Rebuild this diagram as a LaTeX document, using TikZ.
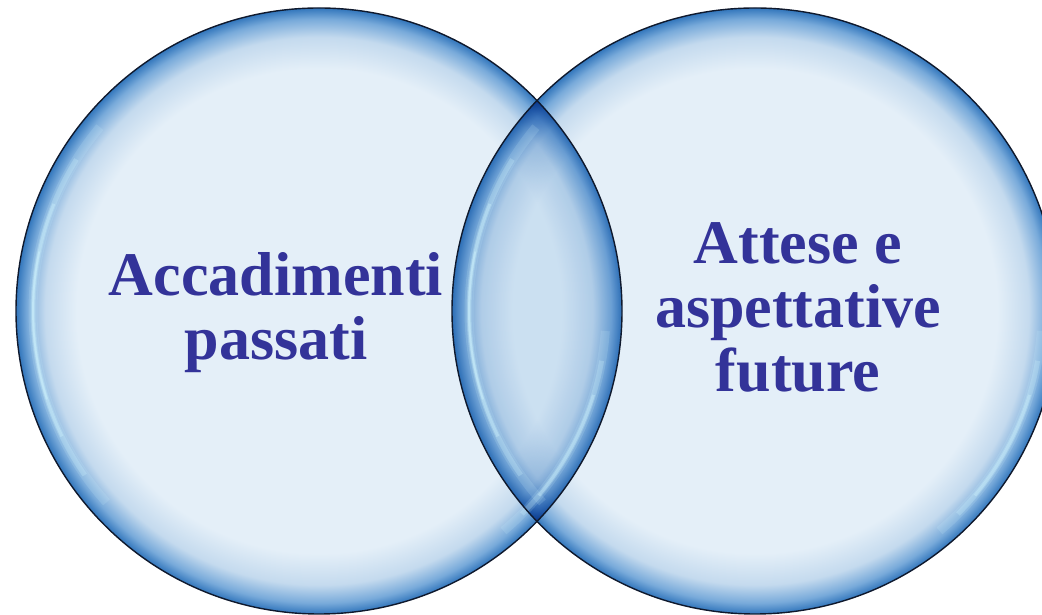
\documentclass[tikz,border=0pt]{standalone}
\usepackage{fontspec}
\setmainfont{Liberation Serif}
\usetikzlibrary{calc}
\definecolor{txtblue}{RGB}{51,51,153}
\definecolor{inner}{RGB}{228,239,248}
\definecolor{rimc}{RGB}{196,218,238}
\definecolor{rimb}{RGB}{120,170,218}
\definecolor{rima}{RGB}{50,118,188}
\definecolor{hl}{RGB}{210,246,255}
\definecolor{edge}{RGB}{15,25,45}
\pgfdeclareradialshading{rimshade}{\pgfpointorigin}{%
  color(0bp)=(inner); color(20bp)=(inner); color(22.6bp)=(rimc);
  color(24.1bp)=(rimb); color(25bp)=(rima); color(50bp)=(rima)}
\tikzset{
  bubble/.style={shading=rimshade},
  rimline/.style={draw=edge, line width=1.4pt},
  label/.style={text=txtblue, font=\bfseries\fontsize{62}{64}\selectfont, align=center, anchor=base, inner sep=0pt},
  hlarc/.style={draw=hl, line cap=butt}
}
\begin{document}
\begin{tikzpicture}[x=1pt,y=1pt]
\useasboundingbox (0,0) rectangle (1042,615);
\clip (0,0) rectangle (1042,615);
\coordinate (L) at (319,304);
\coordinate (R) at (755,304);
% left bubble
\shade[bubble] (L) circle[radius=303];
% right bubble, multiplied over the left one
\begin{scope}[blend mode=multiply]
\shade[bubble] (R) circle[radius=303];
\end{scope}
% soft highlights near the rims
\foreach \c in {L,R}{
  \draw[hlarc, line width=9pt, opacity=0.15] ($( \c )+(140:286)$) arc[start angle=140, end angle=222, radius=286];
  \draw[hlarc, line width=5pt, opacity=0.25] ($( \c )+(148:286)$) arc[start angle=148, end angle=215, radius=286];
  \draw[hlarc, line width=3pt, opacity=0.35] ($( \c )+(158:286)$) arc[start angle=158, end angle=206, radius=286];
  \draw[hlarc, line width=1.8pt, opacity=0.4] ($( \c )+(168:286)$) arc[start angle=168, end angle=198, radius=286];
  \draw[hlarc, line width=9pt, opacity=0.15] ($( \c )+(-50:287)$) arc[start angle=-50, end angle=-4, radius=287];
  \draw[hlarc, line width=5pt, opacity=0.25] ($( \c )+(-45:287)$) arc[start angle=-45, end angle=-10, radius=287];
  \draw[hlarc, line width=3pt, opacity=0.35] ($( \c )+(-40:287)$) arc[start angle=-40, end angle=-17, radius=287];
}
% outlines
\draw[rimline] (L) circle[radius=303];
\draw[rimline] (R) circle[radius=303];
% texts
\node[label] (past) at (276,255) {Accadimenti\\passati};
\node[label] (future) at (798,223) {Attese e\\aspettative\\future};
\end{tikzpicture}
\end{document}
